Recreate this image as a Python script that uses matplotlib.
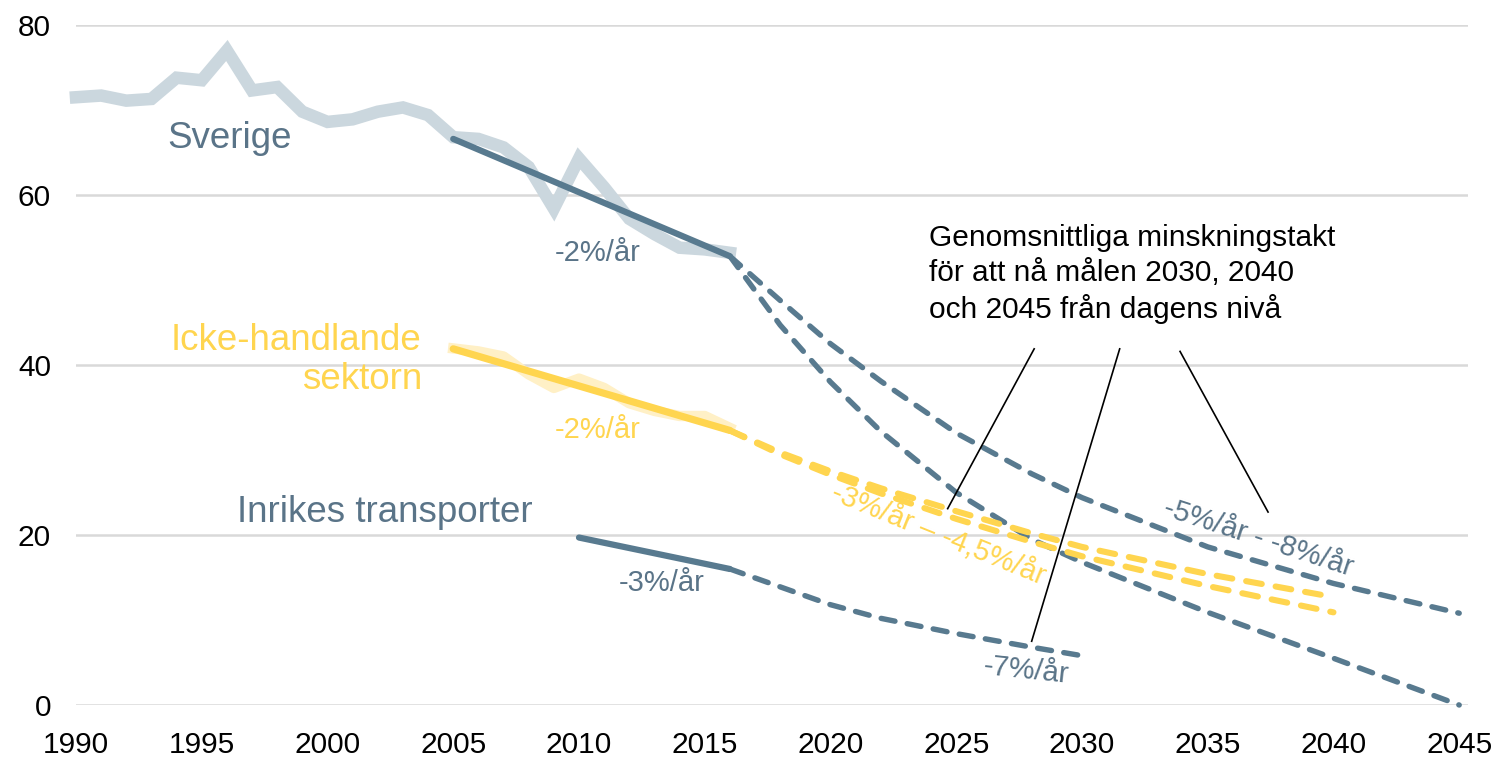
import matplotlib
matplotlib.use("Agg")
import matplotlib.pyplot as plt
import numpy as np

plt.rcParams['font.family'] = ['Liberation Sans', 'DejaVu Sans']

# ---------------- data ----------------
hist_years = list(range(1990, 2017))
sverige_hist = [71.5, 71.7, 71.1, 71.3, 73.8, 73.5, 77.0, 72.3, 72.7, 69.8,
                68.6, 68.9, 69.8, 70.3, 69.4, 66.8, 66.6, 65.6, 63.3, 58.4,
                64.3, 60.9, 57.2, 55.4, 53.8, 53.6, 53.2]

sverige_trend_years = [2005, 2016]
sverige_trend = [66.6, 52.8]

sverige_proj_years = [2016, 2018, 2020, 2022, 2025, 2028, 2030, 2035, 2040, 2045]
sverige_proj_slow = [52.8, 47.6, 42.5, 38.1, 32.0, 27.2, 24.4, 18.6, 14.3, 10.8]
sverige_proj_fast = [52.8, 44.7, 38.0, 32.2, 25.0, 19.5, 16.8, 10.9, 5.5, 0.0]

icke_years = list(range(2005, 2017))
icke_hist = [41.95, 41.6, 41.0, 38.9, 37.3, 38.4, 37.3, 35.5, 34.6, 34.0, 34.0, 32.6]
icke_trend_years = [2005, 2016]
icke_trend = [41.9, 32.3]
icke_proj_years = [2016, 2018, 2020, 2022, 2025, 2028, 2030, 2035, 2040]
icke_proj_slow = [32.3, 29.7, 27.5, 25.5, 22.8, 20.2, 18.6, 15.4, 12.7]
icke_proj_fast = [32.3, 29.5, 27.1, 24.9, 21.9, 19.2, 17.5, 14.0, 10.9]

inrikes_trend_years = [2010, 2016]
inrikes_trend = [19.7, 16.0]
inrikes_proj_years = [2016, 2018, 2020, 2022, 2025, 2028, 2030]
inrikes_proj = [16.0, 13.9, 11.8, 10.2, 8.4, 6.8, 5.8]

xticks = list(range(1990, 2046, 5))
yticks = [0, 20, 40, 60, 80]

# ---------------- style ----------------
SLATE = '#587a8f'
SLATE_TXT = '#5a7488'
GRAY = '#cbd7de'
YELLOW = '#ffd54f'
LIGHT_YELLOW = '#fff0c6'

W, H = 1506, 758
fig = plt.figure(figsize=(W / 100, H / 100), dpi=100)
ax = fig.add_axes([76 / W, 1 - 705 / H, (1468 - 76) / W, (705 - 25) / H])
ax.set_xlim(1990, 2045.35)
ax.set_ylim(0, 80)

for s in ax.spines.values():
    s.set_visible(False)
ax.set_xticks(xticks)
ax.set_yticks(yticks)
ax.tick_params(axis='both', length=0, labelsize=21.5, colors='black')
ax.tick_params(axis='y', pad=18)
ax.tick_params(axis='x', pad=19)
ax.yaxis.grid(True, color='#d9d9d9', lw=1.8)
ax.set_axisbelow(True)

dash_kw = dict(ls=(0, (2.6, 2.3)), dash_capstyle='round', solid_capstyle='round', clip_on=False)

# historical
ax.plot(hist_years, sverige_hist, color=GRAY, lw=9, solid_joinstyle='miter', clip_on=False, zorder=2)
ax.plot(icke_years, icke_hist, color=LIGHT_YELLOW, lw=7.5, clip_on=False, zorder=2)

# projections
ax.plot(sverige_proj_years, sverige_proj_slow, color=SLATE, lw=3.9, zorder=3, **dash_kw)
ax.plot(sverige_proj_years, sverige_proj_fast, color=SLATE, lw=3.9, zorder=3, **dash_kw)
ax.plot(icke_proj_years, icke_proj_slow, color=YELLOW, lw=4.4, zorder=3, **dash_kw)
ax.plot(icke_proj_years, icke_proj_fast, color=YELLOW, lw=4.4, zorder=3, **dash_kw)
ax.plot(inrikes_proj_years, inrikes_proj, color=SLATE, lw=3.9, zorder=3, **dash_kw)

# trends
ax.plot(sverige_trend_years, sverige_trend, color=SLATE, lw=4.5, solid_capstyle='round', zorder=4, clip_on=False)
ax.plot(icke_trend_years, icke_trend, color=YELLOW, lw=5.2, solid_capstyle='round', zorder=4, clip_on=False)
ax.plot(inrikes_trend_years, inrikes_trend, color=SLATE, lw=4.5, solid_capstyle='round', zorder=4, clip_on=False)

# labels
ax.text(1993.65, 66.7, 'Sverige', color=SLATE_TXT, fontsize=26.5, ha='left', va='center')
ax.text(2003.75, 40.6, 'Icke-handlande\nsektorn', color=YELLOW, fontsize=26.5,
        ha='right', va='center', multialignment='right', linespacing=1.15)
ax.text(1996.4, 22.7, 'Inrikes transporter', color=SLATE_TXT, fontsize=26.5, ha='left', va='center')

ax.text(2010.76, 53.2, '-2%/år', color=SLATE_TXT, fontsize=21, ha='center', va='center')
ax.text(2010.76, 32.4, '-2%/år', color=YELLOW, fontsize=21, ha='center', va='center')
ax.text(2013.3, 14.3, '-3%/år', color=SLATE_TXT, fontsize=21, ha='center', va='center')
ax.text(2027.8, 4.1, '-7%/år', color=SLATE_TXT, fontsize=21, ha='center', va='center', rotation=-6)
ax.text(2037.0, 19.6, '-5%/år - -8%/år', color=SLATE_TXT, fontsize=21, ha='center', va='center',
        rotation=-18, rotation_mode='anchor')
ax.text(2024.3, 20.0, '-3%/år – -4,5%/år', color=YELLOW, fontsize=21, ha='center', va='center',
        rotation=-22, rotation_mode='anchor')

ax.text(2023.9, 50.7, 'Genomsnittliga minskningstakt\nför att nå målen 2030, 2040\noch 2045 från dagens nivå',
        color='black', fontsize=21.5, ha='left', va='center', linespacing=1.3)

# annotation pointer lines
ax.plot([2028.1, 2024.66], [41.9, 23.1], color='black', lw=1.2, zorder=5)
ax.plot([2031.5, 2028.0], [41.9, 7.5], color='black', lw=1.2, zorder=5)
ax.plot([2033.9, 2037.4], [41.6, 22.7], color='black', lw=1.2, zorder=5)

fig.savefig('out.png', dpi=100)
